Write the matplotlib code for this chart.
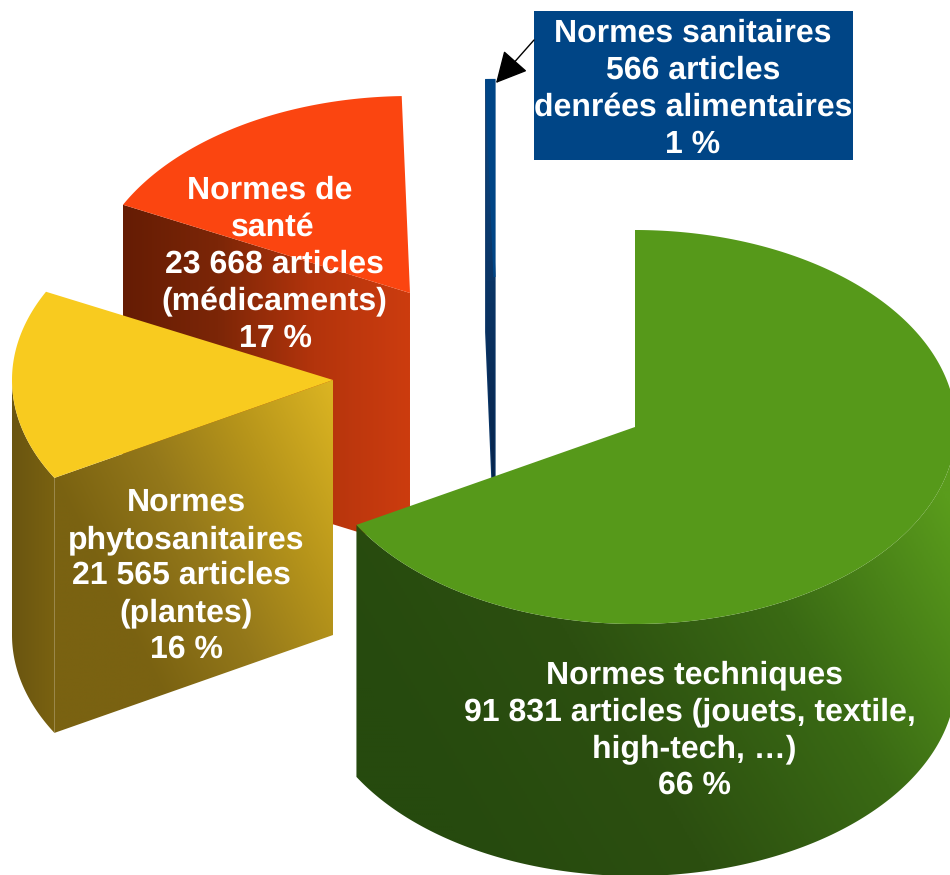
import numpy as np
import matplotlib
matplotlib.use("Agg")
import matplotlib.pyplot as plt
from matplotlib.path import Path
from matplotlib.patches import PathPatch, Rectangle, FancyArrowPatch
from matplotlib.colors import LinearSegmentedColormap

# ---- data ----
categories = ["Normes techniques", "Normes phytosanitaires", "Normes de santé", "Normes sanitaires"]
articles = [91831, 21565, 23668, 566]
label_techniques = ["Normes techniques", "91 831 articles (jouets, textile,", "high-tech, …)", "66 %"]
label_phyto = ["Normes", "phytosanitaires", "21 565 articles", "(plantes)", "16 %"]
label_sante = ["Normes de", "santé", "23 668 articles", "(médicaments)", "17 %"]
label_sanitaires = ["Normes sanitaires", "566 articles", "denrées alimentaires", "1 %"]

# ---- layout / style ----
RX, RY, DEPTH = 321.0, 197.0, 252.0
apex = {"Normes techniques": (635, 427), "Normes phytosanitaires": (333, 380),
        "Normes de santé": (410, 293), "Normes sanitaires": (494.5, 277)}
top_col = {"Normes techniques": "#56991a", "Normes phytosanitaires": "#f8cb1f",
           "Normes de santé": "#fb4510", "Normes sanitaires": "#004586"}
FS = 23.0
plt.rcParams["font.family"] = ["Liberation Sans", "DejaVu Sans"]
plt.rcParams["text.hinting"] = "no_hinting"

fig = plt.figure(figsize=(9.5, 8.75), dpi=100, facecolor="white")
ax = fig.add_axes([0, 0, 1, 1])
ax.set_axis_off()


def rim(c, a0, a1, n=160):
    t = np.radians(np.linspace(a0, a1, n))
    return np.column_stack([c[0] + RX * np.cos(t), c[1] - RY * np.sin(t)])


def grad_fill(verts, stops, ux, uy, lo, hi, z):
    """Fill a polygon with a linear gradient along direction (ux, uy)."""
    verts = np.asarray(verts)
    patch = PathPatch(Path(np.vstack([verts, verts[:1]]), closed=True), fc="none", ec="none", zorder=z)
    ax.add_patch(patch)
    x0, x1 = verts[:, 0].min(), verts[:, 0].max()
    y0, y1 = verts[:, 1].min(), verts[:, 1].max()
    X, Y = np.meshgrid(np.linspace(x0, x1, 300), np.linspace(y0, y1, 300))
    T = np.clip((ux * X + uy * Y - lo) / (hi - lo), 0, 1)
    cmap = LinearSegmentedColormap.from_list("g", stops)
    im = ax.imshow(T, extent=(x0, x1, y1, y0), cmap=cmap, vmin=0, vmax=1,
                   aspect="auto", interpolation="bilinear", zorder=z)
    im.set_clip_path(patch)


# angles from the values, clockwise from 12 o'clock
total = sum(articles)
spans = [v / total * 360 for v in articles]
starts = 90 - np.concatenate([[0], np.cumsum(spans)[:-1]])
ang = {c: (s, s - d) for c, s, d in zip(categories, starts, spans)}

# blue sliver
c = "Normes sanitaires"
p, (a0, a1) = apex[c], ang[c]
r = rim(p, a0, a1, 10)
e = r[np.argmin(r[:, 0])]
ax.fill([e[0], p[0], p[0], e[0]], [e[1], p[1], p[1] + DEPTH, e[1] + DEPTH],
        color="#0a3566", lw=1.6, zorder=1)
grad_fill([e, p, (p[0], p[1] + DEPTH), (e[0], e[1] + DEPTH)],
          ["#0d4a86", "#0a3566", "#07244c"], 0, 1, 80, 480, 1)
ax.fill(*np.vstack([r, [p]]).T, color=top_col[c], zorder=1.1, lw=1.6)

# red
c = "Normes de santé"
p, (a0, a1) = apex[c], ang[c]
r = rim(p, a0, a1)
e = r[np.argmin(r[:, 0])]
grad_fill([e, p, (p[0], p[1] + DEPTH + 3), (e[0], e[1] + DEPTH + 3)],
          ["#651c04", "#7c2607", "#b3340c", "#cc3c0f"], 1, 0, 122, 410, 2)
ax.fill(*np.vstack([r, [p]]).T, color=top_col[c], zorder=2.1, lw=0)

# yellow
c = "Normes phytosanitaires"
p, (a0, a1) = apex[c], ang[c]
r = rim(p, a0, a1)
fr = rim(p, a0, a0, 1)[0]
grad_fill([fr, p, (p[0], p[1] + DEPTH + 3), (fr[0], fr[1] + DEPTH + 3)],
          ["#7a6211", "#94781a", "#b8961b", "#dcb522"], 1, -0.5, 55 - 240, 333 - 190, 3)
arc = rim(p, a0, -180)
grad_fill(np.vstack([arc, arc[::-1] + [0, DEPTH + 3]]),
          ["#6a5510", "#7a6211"], 1, 0, 12, 55, 3)
ax.fill(*np.vstack([r, [p]]).T, color=top_col[c], zorder=3.1, lw=0)

# green
c = "Normes techniques"
p, (a0, a1) = apex[c], ang[c]
r = rim(p, a0, a1, 300)
arc = rim(p, 0, a1, 300)
grad_fill(np.vstack([arc, arc[::-1] + [0, DEPTH]]),
          ["#264a0e", "#2c4f10", "#3a6a14", "#5a9c1c"], 1, -0.6, 355 - 400, 950 - 300, 4)
ax.fill(*np.vstack([r, [p]]).T, color=top_col[c], zorder=4.1, lw=0)

# callout
ax.add_patch(Rectangle((533.5, 11), 319.5, 149, fc="#004586", ec="none", zorder=5))
ax.add_patch(FancyArrowPatch((534, 40), (496, 83), arrowstyle="-|>,head_length=1.95,head_width=1.0",
                             mutation_scale=10, color="black", lw=1, shrinkA=0, shrinkB=0, zorder=6))


def block(lines, xs, ys):
    for s, x, y in zip(lines, xs, ys):
        ax.text(x, y, s, color="white", fontsize=FS, fontweight="bold",
                ha="center", va="baseline", zorder=7)


block(label_sanitaires, [693, 693, 693, 693], [42, 79, 116, 153])
block(label_sante, [270, 273, 274, 274, 275], [199, 236, 273, 310, 347])
block(label_phyto, [186, 186, 181, 186, 186], [511, 548, 584, 621, 658])
block(label_techniques, [694, 690, 694, 694], [683, 720, 757, 794])

ax.set_xlim(0, 950)
ax.set_ylim(875, 0)
fig.savefig("out.png", dpi=100, facecolor="white")
